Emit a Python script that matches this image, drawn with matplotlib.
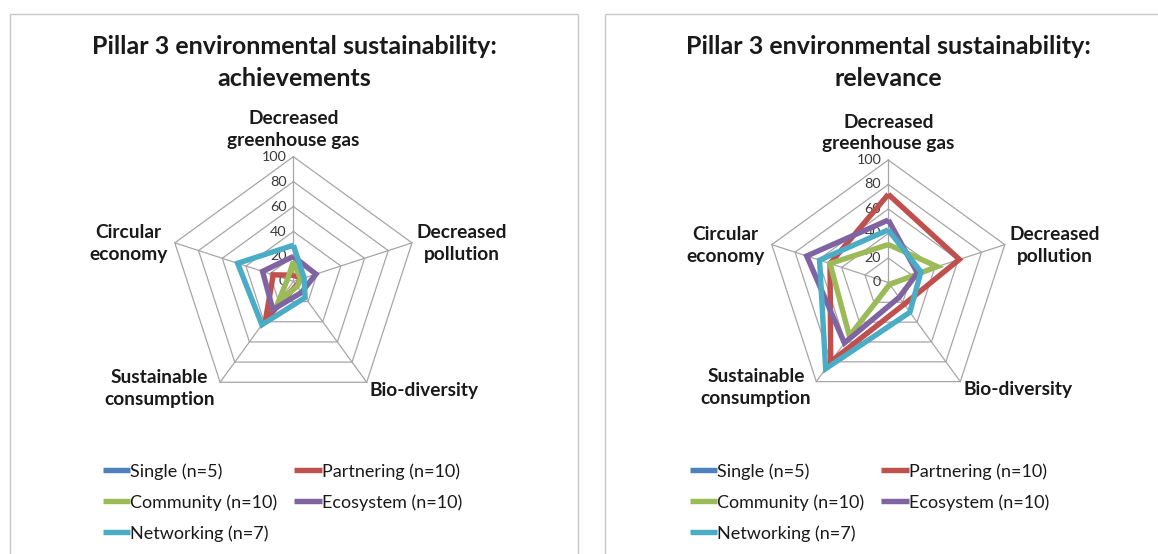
import numpy as np
import matplotlib
matplotlib.use("Agg")
import matplotlib.pyplot as plt
from matplotlib.patches import Rectangle

plt.rcParams['font.family'] = ['Lato', 'DejaVu Sans']

# ---------------- data ----------------
categories = ['Decreased\ngreenhouse gas', 'Decreased\npollution', 'Bio-diversity',
              'Sustainable\nconsumption', 'Circular\neconomy']
series_names = ['Single (n=5)', 'Partnering (n=10)', 'Community (n=10)',
                'Ecosystem (n=10)', 'Networking (n=7)']
radial_ticks = [0, 20, 40, 60, 80, 100]

ach_single = [0, 0, 0, 0, 0]
ach_partnering = [5, 7, 4, 38, 17]
ach_community = [16, 6, 5, 21, 5]
ach_ecosystem = [20, 19, 11, 28, 26]
ach_networking = [29, 9, 16, 43, 47]

rel_single = [0, 0, 0, 0, 0]
rel_partnering = [72, 61, 22, 80, 50]
rel_community = [31, 42, 2, 54, 50]
rel_ecosystem = [51, 25, 15, 61, 70]
rel_networking = [43, 28, 30, 87, 59]

titles = ['Pillar 3 environmental sustainability:\nachievements',
          'Pillar 3 environmental sustainability:\nrelevance']

colors = ['#4F81BD', '#C0504D', '#9BBB59', '#8064A2', '#4BACC6']
grid_color = '#A6A6A6'

# ---------------- layout ----------------
W, H = 1158, 554
fig = plt.figure(figsize=(W / 100, H / 100), dpi=100)
fig.patch.set_facecolor('white')
renderer = fig.canvas.get_renderer()


def fit_size(text, target_px, weight='normal', base=12):
    t = fig.text(0, 0, text, fontsize=base, fontweight=weight)
    w = t.get_window_extent(renderer).width
    t.remove()
    return base * target_px / w


title_fs = fit_size('Pillar 3 environmental sustainability:', 400, 'bold')
label_fs = fit_size('greenhouse gas', 132, 'bold')
tick_fs = fit_size('100', 25)
legend_fs = fit_size('Partnering (n=10)', 138)

# panel frames
fig.add_artist(Rectangle((10 / W, -0.05), 568 / W, 1 - 14 / H + 0.05,
                         transform=fig.transFigure, fill=False,
                         edgecolor='#C8C8C8', lw=1.0))
fig.add_artist(Rectangle((605 / W, -0.05), 560 / W, 1 - 14 / H + 0.05,
                         transform=fig.transFigure, fill=False,
                         edgecolor='#C8C8C8', lw=1.0))

panels = [
    dict(cx=293.4, cy=281.4, R=124.7, tx=294, data=[ach_single, ach_partnering, ach_community,
                                                     ach_ecosystem, ach_networking], leg_x=103),
    dict(cx=888.3, cy=282.5, R=122.5, tx=888, data=[rel_single, rel_partnering, rel_community,
                                                     rel_ecosystem, rel_networking], leg_x=690),
]

n = len(categories)
theta = np.arange(n) * 2 * np.pi / n
theta_c = np.append(theta, theta[0])

# label offsets (pixels, relative to the outer vertex), alignment
label_pos = [
    dict(off=(0, 27), ha='center', va='center'),
    dict(off=(5, -1), ha='left', va='center'),
    dict(off=(3, -8), ha='left', va='center'),
    dict(off=(-5, -6), ha='right', va='center'),
    dict(off=(-7, -1), ha='right', va='center'),
]

for k, p in enumerate(panels):
    cx, cy, R = p['cx'], p['cy'], p['R']
    ax = fig.add_axes([(cx - R) / W, 1 - (cy + R) / H, 2 * R / W, 2 * R / H],
                      projection='polar')
    ax.set_theta_offset(np.pi / 2)
    ax.set_theta_direction(-1)
    ax.set_ylim(0, 100)
    ax.set_axis_off()

    # pentagonal grid
    for t in radial_ticks[1:]:
        ax.plot(theta_c, [t] * (n + 1), color=grid_color, lw=0.9,
                clip_on=False, zorder=1)
    for th in theta:
        ax.plot([th, th], [0, 100], color=grid_color, lw=0.9,
                clip_on=False, zorder=1)

    # radial tick labels
    for t in radial_ticks:
        ax.annotate(str(t), xy=(0, t), xytext=(-7, 0), textcoords='offset pixels',
                    ha='right', va='center', fontsize=tick_fs, color='#3A3A3A',
                    zorder=2)

    # series
    handles = []
    for name, vals, col in zip(series_names, p['data'], colors):
        v = list(vals) + [vals[0]]
        ln, = ax.plot(theta_c, v, color=col, lw=3.9, clip_on=False, zorder=3,
                      solid_joinstyle='miter', solid_capstyle='butt', label=name)
        handles.append(ln)

    # category labels
    for th, lab, lp in zip(theta, categories, label_pos):
        ax.annotate(lab, xy=(th, 100), xytext=lp['off'], textcoords='offset pixels',
                    ha=lp['ha'], va=lp['va'], multialignment='center',
                    fontsize=label_fs, fontweight='bold', color='#1A1A1A',
                    linespacing=1.35, zorder=4)

    # title
    fig.text(p['tx'] / W, 1 - 62.5 / H, titles[k], ha='center', va='center',
             fontsize=title_fs, fontweight='bold', color='#1A1A1A',
             linespacing=1.45)

    # legend (row-wise order like the original)
    order = [0, 2, 4, 1, 3]
    fig.legend([handles[i] for i in order], [series_names[i] for i in order],
               loc='upper left', bbox_to_anchor=(p['leg_x'] / W, 1 - 463 / H),
               ncol=2, frameon=False, fontsize=legend_fs, handlelength=1.5,
               handletextpad=0.0, columnspacing=0.95, labelspacing=0.8,
               borderpad=0, borderaxespad=0, labelcolor='#1A1A1A')

fig.savefig('out.png', dpi=100, facecolor='white')
